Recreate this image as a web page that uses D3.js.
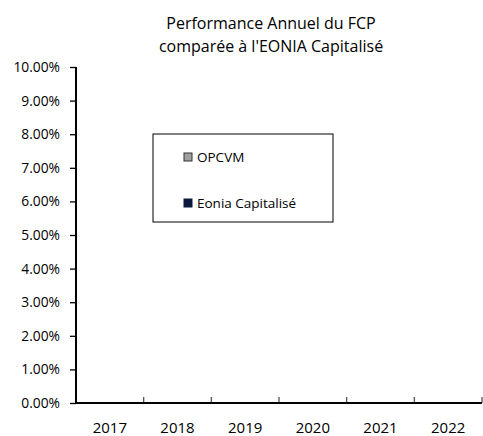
<!DOCTYPE html>
<html>
<head>
<meta charset="utf-8">
<script src="https://cdn.jsdelivr.net/npm/d3@7"></script>
<style>
  html, body { margin: 0; padding: 0; background: #fff; }
  svg { display: block; font-family: "Open Sans", Lato, sans-serif; }
</style>
</head>
<body>
<svg width="483" height="436"></svg>
<script>
const years = ['2017', '2018', '2019', '2020', '2021', '2022'];
// no value shown on the chart for either series
const opcvm = [0, 0, 0, 0, 0, 0];
const eonia = [0, 0, 0, 0, 0, 0];
const seriesNames = ['OPCVM', 'Eonia Capitalisé'];
const seriesColors = ['#a0a0a0', '#0b1a3e'];
const yTicks = [0, 0.01, 0.02, 0.03, 0.04, 0.05, 0.06, 0.07, 0.08, 0.09, 0.10];

const margin = { top: 67, right: 1, bottom: 33, left: 76 };
const width = 483 - margin.left - margin.right;
const height = 436 - margin.top - margin.bottom;

const svg = d3.select('svg');

// title
const title = svg.append('text')
  .attr('text-anchor', 'middle')
  .attr('font-size', 16)
  .attr('fill', '#000');
title.append('tspan').attr('x', 271).attr('y', 29).text('Performance Annuel du FCP');
title.append('tspan').attr('x', 271).attr('y', 52).text("comparée à l'EONIA Capitalisé");

const g = svg.append('g').attr('transform', `translate(${margin.left},${margin.top})`);

const x = d3.scaleBand().domain(years).range([0, width]);
const x1 = d3.scaleBand().domain(seriesNames).range([0, x.bandwidth()]).paddingInner(0).paddingOuter(0.3);
const y = d3.scaleLinear().domain([0, 0.10]).range([height, 0]);

// bars (all zero height)
const table = years.map((yr, i) => ({ year: yr, values: [opcvm[i], eonia[i]] }));
g.append('g').selectAll('g')
  .data(table)
  .join('g')
  .attr('transform', d => `translate(${x(d.year)},0)`)
  .selectAll('rect')
  .data(d => d.values.map((v, j) => ({ v, j })))
  .join('rect')
  .attr('x', d => x1(seriesNames[d.j]))
  .attr('width', x1.bandwidth())
  .attr('y', d => y(d.v))
  .attr('height', d => height - y(d.v))
  .attr('fill', d => seriesColors[d.j]);

// y axis
const yAxis = g.append('g')
  .call(d3.axisLeft(y).tickValues(yTicks).tickFormat(d3.format('.2%')).tickSize(6).tickPadding(10));
yAxis.select('.domain').attr('stroke', '#000').attr('stroke-width', 2).attr('d', `M0,${height}V0`);
yAxis.selectAll('.tick line').attr('stroke', '#000').attr('stroke-width', 1.3);
yAxis.selectAll('.tick text').attr('font-size', 13.8).attr('fill', '#000')
  .attr('font-family', '"Open Sans", Lato, sans-serif');

// x axis: ticks between categories, pointing up
const boundaries = years.slice(1).map(yr => x(yr)).concat([width]);
const xAxis = g.append('g').attr('transform', `translate(0,${height})`);
xAxis.selectAll('line.sep')
  .data(boundaries)
  .join('line')
  .attr('class', 'sep')
  .attr('x1', d => d).attr('x2', d => d)
  .attr('y1', 0).attr('y2', -6)
  .attr('stroke', '#555').attr('stroke-width', 1.3);
xAxis.append('line')
  .attr('x1', 0).attr('x2', width)
  .attr('y1', 0).attr('y2', 0)
  .attr('stroke', '#000').attr('stroke-width', 2);
xAxis.selectAll('text.lbl')
  .data(years)
  .join('text')
  .attr('class', 'lbl')
  .attr('x', d => x(d) + x.bandwidth() / 2)
  .attr('y', 30)
  .attr('text-anchor', 'middle')
  .attr('font-size', 15)
  .attr('fill', '#000')
  .text(d => d);

// legend
const legend = svg.append('g').attr('transform', 'translate(153,134)');
legend.append('rect')
  .attr('width', 180).attr('height', 88)
  .attr('fill', '#fff').attr('stroke', '#000').attr('stroke-width', 1);
const items = legend.selectAll('g.item')
  .data(seriesNames)
  .join('g')
  .attr('class', 'item')
  .attr('transform', (d, i) => `translate(31,${19 + i * 46})`);
items.append('rect')
  .attr('width', 8).attr('height', 8)
  .attr('fill', (d, i) => seriesColors[i])
  .attr('stroke', (d, i) => i === 0 ? '#333' : seriesColors[i])
  .attr('stroke-width', 1);
items.append('text')
  .attr('x', 13).attr('y', 9)
  .attr('font-size', 13.5)
  .attr('fill', '#000')
  .text(d => d);
</script>
</body>
</html>
